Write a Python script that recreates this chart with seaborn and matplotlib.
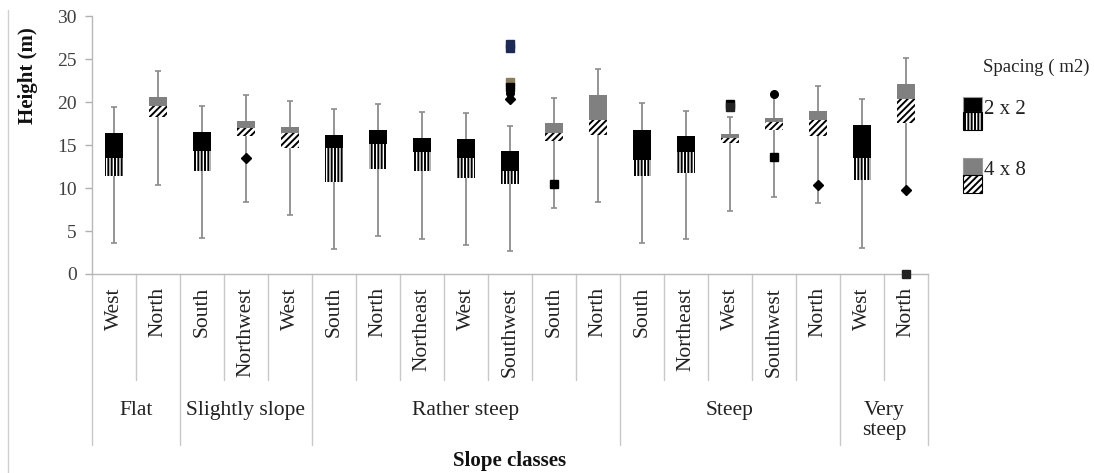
import matplotlib
matplotlib.use("Agg")
import matplotlib.pyplot as plt
from matplotlib.lines import Line2D
from matplotlib.patches import Rectangle
import seaborn as sns
import pandas as pd

# Box plot data (Excel-style stacked boxes)
aspect = ["West", "North", "South", "Northwest", "West", "South", "North", "Northeast",
          "West", "Southwest", "South", "North", "South", "Northeast", "West", "Southwest",
          "North", "West", "North"]
spacing = ["2 x 2", "4 x 8", "2 x 2", "4 x 8", "4 x 8", "2 x 2", "2 x 2", "2 x 2",
           "2 x 2", "2 x 2", "4 x 8", "4 x 8", "2 x 2", "2 x 2", "4 x 8", "4 x 8",
           "4 x 8", "2 x 2", "4 x 8"]
slope_classes = ["Flat", "Slightly slope", "Rather steep", "Steep", "Very\nsteep"]
slope_counts = [2, 3, 7, 5, 2]

minimum = [3.6, 10.3, 4.2, 8.4, 6.9, 2.9, 4.4, 4.1, 3.4, 2.7, 7.7, 8.4, 3.6, 4.1, 7.3, 8.9, 8.2, 3.0, 9.9]
q1 = [11.4, 18.2, 12.0, 16.1, 14.7, 10.7, 12.2, 12.0, 11.2, 10.5, 15.5, 16.2, 11.4, 11.8, 15.2, 16.7, 16.1, 10.9, 17.6]
median = [13.5, 19.5, 14.3, 17.0, 16.4, 14.6, 15.1, 14.2, 13.5, 12.0, 16.4, 17.9, 13.3, 14.2, 15.8, 17.7, 17.9, 13.5, 20.3]
q3 = [16.4, 20.6, 16.5, 17.8, 17.1, 16.2, 16.8, 15.8, 15.7, 14.3, 17.6, 20.8, 16.8, 16.0, 16.3, 18.1, 19.0, 17.3, 22.1]
maximum = [19.4, 23.6, 19.5, 20.8, 20.1, 19.2, 19.8, 18.8, 18.7, 17.2, 20.5, 23.8, 19.9, 19.0, 18.3, 20.8, 21.9, 20.3, 25.1]

# outliers: box index, value, marker, colour
out_idx = [3, 9, 9, 9, 9, 9, 9, 10, 14, 14, 15, 15, 16, 18, 18]
out_val = [13.5, 26.8, 26.3, 22.3, 21.7, 21.0, 20.4, 10.5, 19.8, 19.4, 20.9, 13.6, 10.4, 9.8, 0.0]
out_marker = ["D", "s", "s", "s", "s", "o", "D", "s", "s", "s", "o", "s", "D", "D", "s"]
out_color = ["black", "#1d2a55", "#1d2a55", "#8a7f5a", "black", "black", "black", "black",
             "black", "#222222", "black", "black", "black", "black", "#222222"]

upper_color = {"2 x 2": "black", "4 x 8": "#808080"}
lower_hatch = {"2 x 2": "|||||", "4 x 8": "/////"}

df = pd.DataFrame({"id": [f"{i}_{a}" for i, a in enumerate(aspect)], "aspect": aspect,
                   "spacing": spacing, "min": minimum, "q1": q1, "median": median,
                   "q3": q3, "max": maximum})

sns.set_style("white")
plt.rcParams["font.family"] = ["Liberation Serif", "DejaVu Serif"]
plt.rcParams["hatch.linewidth"] = 1.4

W, H = 1094, 473
fig = plt.figure(figsize=(W / 100, H / 100), dpi=100)
ax = fig.add_axes([92 / W, 1 - 274 / H, 836 / W, 258 / H])

ids = list(df["id"])
pos = list(range(len(ids)))


def layer(col):
    n0 = len(ax.patches)
    sns.barplot(data=df, x="id", y=col, order=ids, color="black", width=0.4,
                errorbar=None, ax=ax)
    new = ax.patches[n0:]
    return sorted(new, key=lambda p: p.get_x())


# full box to Q3 (solid), median part (patterned), mask below Q1 (white)
for p, s in zip(layer("q3"), spacing):
    p.set_facecolor(upper_color[s])
    p.set_linewidth(0)
for p, s in zip(layer("median"), spacing):
    p.set_facecolor("white")
    p.set_edgecolor("black")
    p.set_linewidth(0)
    p.set_hatch(lower_hatch[s])
for p in layer("q1"):
    p.set_facecolor("white")
    p.set_linewidth(0)

wcol = "#8c8c8c"
ax.vlines(pos, df["q3"], df["max"], color=wcol, lw=1.3, zorder=3)
ax.vlines(pos, df["min"], df["q1"], color=wcol, lw=1.3, zorder=3)
ax.hlines(df["max"], [x - 0.07 for x in pos], [x + 0.07 for x in pos], color=wcol, lw=1.2, zorder=3)
ax.hlines(df["min"], [x - 0.07 for x in pos], [x + 0.07 for x in pos], color=wcol, lw=1.2, zorder=3)

for i, v, m, c in zip(out_idx, out_val, out_marker, out_color):
    ax.plot(i, v, marker=m, color=c, ms=5.5, ls="none", zorder=5, clip_on=False)

ax.set_xlim(-0.5, len(ids) - 0.5)
ax.set_ylim(0, 30)
ax.set_yticks(range(0, 31, 5))
ax.set_xticks([])
ax.set_xlabel("")
ax.set_ylabel("")
ax.tick_params(axis="y", direction="out", length=5, width=1, color="#b0b0b0",
               labelsize=14, labelcolor="#404040", pad=6, left=True)
sns.despine(ax=ax, top=True, right=True)
for side in ["left", "bottom"]:
    ax.spines[side].set_color("#b8b8b8")
    ax.spines[side].set_linewidth(1)

# category table under the axis
tr = ax.get_xaxis_transform()
y_short = -(380 - 274) / 258
y_long = -(445 - 274) / 258
group_edges = [0]
for n in slope_counts:
    group_edges.append(group_edges[-1] + n)
for k in range(len(ids) + 1):
    y_end = y_long if k in group_edges else y_short
    ax.plot([k - 0.5, k - 0.5], [0, y_end], color="#c8c8c8", lw=1, transform=tr, clip_on=False)
for i, a in enumerate(aspect):
    ax.text(i, -(287 - 274) / 258, a, rotation=90, ha="center", va="top", fontsize=15.5,
            color="#222222", transform=tr)
for g, start, end in zip(slope_classes, group_edges[:-1], group_edges[1:]):
    ax.text((start + end - 1) / 2, -(401 - 274) / 258, g, ha="center", va="top", fontsize=15.5,
            color="#222222", linespacing=1.1, transform=tr)
ax.text(0.5, -(461 - 274) / 258, "Slope classes", ha="center", va="center", fontsize=15,
        fontweight="bold", color="#111111", transform=ax.transAxes)

fig.text(28 / W, 1 - 76 / H, "Height (m)", rotation=90, ha="center", va="center",
         fontsize=15, fontweight="bold", color="#111111")

# frame line on the left
fig.add_artist(Line2D([8 / W, 8 / W], [0, 1 - 10 / H], color="#d0d0d0", lw=1))

# legend
fig.text(983 / W, 1 - 67 / H, "Spacing ( m2)", ha="left", va="center", fontsize=13.5, color="#222222")
leg = [("2 x 2", 97, 112, 130), ("4 x 8", 158, 175, 193)]
for lab, top, mid, bot in leg:
    s = lab
    fig.add_artist(Rectangle((963 / W, 1 - mid / H), 19 / W, (mid - top) / H,
                             facecolor=upper_color[s], edgecolor="#999999", lw=0.8,
                             transform=fig.transFigure))
    fig.add_artist(Rectangle((963 / W, 1 - bot / H), 19 / W, (bot - mid) / H,
                             facecolor="white", edgecolor="black", lw=0.8,
                             hatch=lower_hatch[s], transform=fig.transFigure))
    fig.text(984 / W, 1 - (top + 12) / H, lab, ha="left", va="center", fontsize=15, color="#222222")

fig.savefig("out.png", dpi=100)
